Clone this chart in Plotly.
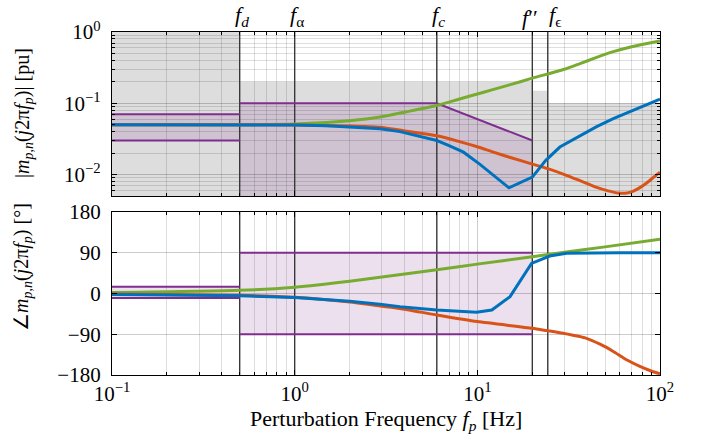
import math
import plotly.graph_objects as go

# ---------------- data ----------------
F_MIN, F_MAX = 0.1, 100.0
MAG_MIN, MAG_MAX = 0.005, 1.0
PH_MIN, PH_MAX = -180, 180

marker_labels = ["<i>f</i><sub><i>d</i></sub>", "<i>f</i><sub>α</sub>",
                 "<i>f</i><sub><i>c</i></sub>", "<i>f</i>′′", "<i>f</i><sub>ϵ</sub>"]
marker_freqs = [0.5, 1.0, 6.0, 20.0, 24.3]

# grey magnitude limit region: segment edges and upper bounds
gray_edges = [0.1, 0.5, 20.0, 24.3, 100.0]
gray_tops = [1.0, 0.2, 0.15, 0.1]

# purple magnitude region
pm_low_f = [0.1, 0.5]
pm_low_bounds = [0.03, 0.07]
pm_high_f = [0.5, 6.0, 20.0]
pm_high_top = [0.1, 0.1, 0.03]

# purple phase region
pp_low_f = [0.1, 0.5]
pp_low_bounds = [-10, 15]
pp_high_f = [0.5, 20.0]
pp_high_bounds = [-90, 90]

# magnitude curves
green_mag_f = [0.1, 0.5, 1, 2, 2.93, 4, 6, 8, 10, 12, 15, 20, 30, 36.5, 45, 55, 70, 85, 100]
green_mag = [0.05, 0.05, 0.051, 0.057, 0.064, 0.075, 0.093, 0.115, 0.135, 0.154, 0.181,
             0.225, 0.30, 0.36, 0.44, 0.525, 0.62, 0.69, 0.75]
orange_mag_f = [0.1, 0.5, 1, 2, 2.93, 4, 6, 8, 10, 12, 15, 20, 25, 30, 36.5, 45, 52, 59,
                66, 71, 78, 84.5, 92, 100]
orange_mag = [0.05, 0.05, 0.0495, 0.048, 0.046, 0.041, 0.035, 0.029, 0.0245, 0.021, 0.0175,
              0.014, 0.0118, 0.0100, 0.0082, 0.0066, 0.0059, 0.0055, 0.0055, 0.0058, 0.0066,
              0.0076, 0.0091, 0.0108]
blue_mag_f = [0.1, 0.5, 1, 1.5, 2, 2.93, 3.77, 5, 6, 7, 8.4, 10.3, 12, 14.9, 20, 23.7, 28.3,
              36.5, 45, 55.5, 70, 85, 100]
blue_mag = [0.05, 0.05, 0.0495, 0.0485, 0.047, 0.044, 0.040, 0.034, 0.030, 0.0255, 0.0206,
            0.014, 0.0102, 0.0065, 0.0092, 0.0158, 0.0243, 0.0354, 0.047, 0.0608, 0.078,
            0.096, 0.114]

# phase curves
green_ph_f = [0.1, 0.5, 1, 2, 2.93, 6, 10, 20, 30, 50, 100]
green_ph = [2, 7, 14, 27, 35.7, 52.7, 64.9, 81.4, 91, 103, 119.6]
orange_ph_f = [0.1, 0.5, 1, 2, 2.93, 3.77, 6, 10, 20, 24, 29.5, 39.6, 47, 55.5, 66, 77.6, 88, 100]
orange_ph = [-1, -4, -8.4, -19, -27.6, -33, -47.4, -62, -76.8, -82, -88, -99, -112, -128,
             -147, -161, -170, -177.6]
blue_ph_f = [0.1, 0.5, 1, 2, 2.93, 3.77, 6, 8, 9.9, 12, 15.1, 19.8, 24.9, 30.8, 40, 60, 100]
blue_ph = [-2, -5, -9, -17, -24, -29, -36.4, -39.5, -41.6, -36.4, -7, 66.6, 82.7, 88.7, 89.5,
           90, 90]

x_tickvals = [0.1, 1, 10, 100]
x_ticktext = ["10<sup>−1</sup>", "10<sup>0</sup>", "10<sup>1</sup>", "10<sup>2</sup>"]
mag_tickvals = [0.01, 0.1, 1]
mag_ticktext = ["10<sup>−2</sup>", "10<sup>−1</sup>", "10<sup>0</sup>"]
ph_tickvals = [-180, -90, 0, 90, 180]
ph_ticktext = ["−180", "−90", "0", "90", "180"]

# ---------------- style ----------------
GREEN = "#77ac30"
ORANGE = "#d95319"
BLUE = "#0072bd"
PURPLE = "#7e2f8e"
PURPLE_FILL = "rgba(126,47,142,0.15)"
GRAY_FILL = "#dddddd"
MARK = "#383838"
FONT = "Liberation Serif"
label_anchor = ["center", "center", "center", "center", "left"]
label_shift = [2, 2, 2, -2, -1]

minor_x = [m * 10 ** k for k in range(-1, 2) for m in range(2, 10)]
minor_y = [m * 10 ** k for k in range(-3, 0) for m in range(2, 10)
           if MAG_MIN <= m * 10 ** k <= MAG_MAX]

fig = go.Figure()

shapes = []
for i in range(len(gray_tops)):
    shapes.append(dict(type="rect", xref="x", yref="y", x0=gray_edges[i], x1=gray_edges[i + 1],
                       y0=MAG_MIN, y1=gray_tops[i], fillcolor=GRAY_FILL,
                       line=dict(width=0), layer="below"))
shapes.append(dict(type="rect", xref="x", yref="y", x0=pm_low_f[0], x1=pm_low_f[1],
                   y0=pm_low_bounds[0], y1=pm_low_bounds[1], fillcolor=PURPLE_FILL,
                   line=dict(width=0), layer="below"))
path = "M{},{} ".format(pm_high_f[0], MAG_MIN)
for f, v in zip(pm_high_f, pm_high_top):
    path += "L{},{} ".format(f, v)
path += "L{},{} Z".format(pm_high_f[-1], MAG_MIN)
shapes.append(dict(type="path", xref="x", yref="y", path=path, fillcolor=PURPLE_FILL,
                   line=dict(width=0), layer="below"))
shapes.append(dict(type="rect", xref="x2", yref="y2", x0=pp_low_f[0], x1=pp_low_f[1],
                   y0=pp_low_bounds[0], y1=pp_low_bounds[1], fillcolor=PURPLE_FILL,
                   line=dict(width=0), layer="below"))
shapes.append(dict(type="rect", xref="x2", yref="y2", x0=pp_high_f[0], x1=pp_high_f[1],
                   y0=pp_high_bounds[0], y1=pp_high_bounds[1], fillcolor=PURPLE_FILL,
                   line=dict(width=0), layer="below"))

# marker lines
for f in marker_freqs:
    fig.add_trace(go.Scatter(x=[f, f], y=[MAG_MIN, MAG_MAX], mode="lines",
                             line=dict(color=MARK, width=1.4), xaxis="x", yaxis="y",
                             hoverinfo="skip"))
    fig.add_trace(go.Scatter(x=[f, f], y=[PH_MIN, PH_MAX], mode="lines",
                             line=dict(color=MARK, width=1.4), xaxis="x2", yaxis="y2",
                             hoverinfo="skip"))

# purple boundary lines
for b in pm_low_bounds:
    fig.add_trace(go.Scatter(x=pm_low_f, y=[b, b], mode="lines",
                             line=dict(color=PURPLE, width=2), xaxis="x", yaxis="y"))
fig.add_trace(go.Scatter(x=pm_high_f, y=pm_high_top, mode="lines",
                         line=dict(color=PURPLE, width=2), xaxis="x", yaxis="y"))
for b in pp_low_bounds:
    fig.add_trace(go.Scatter(x=pp_low_f, y=[b, b], mode="lines",
                             line=dict(color=PURPLE, width=2), xaxis="x2", yaxis="y2"))
for b in pp_high_bounds:
    fig.add_trace(go.Scatter(x=pp_high_f, y=[b, b], mode="lines",
                             line=dict(color=PURPLE, width=2), xaxis="x2", yaxis="y2"))

# curves
for fx, fy, col, shp in [(green_mag_f, green_mag, GREEN, "spline"),
                         (orange_mag_f, orange_mag, ORANGE, "spline"),
                         (blue_mag_f, blue_mag, BLUE, "linear")]:
    fig.add_trace(go.Scatter(x=fx, y=fy, mode="lines",
                             line=dict(color=col, width=3, shape=shp, smoothing=0.6),
                             xaxis="x", yaxis="y"))
for fx, fy, col, shp in [(green_ph_f, green_ph, GREEN, "spline"),
                         (orange_ph_f, orange_ph, ORANGE, "spline"),
                         (blue_ph_f, blue_ph, BLUE, "linear")]:
    fig.add_trace(go.Scatter(x=fx, y=fy, mode="lines",
                             line=dict(color=col, width=3, shape=shp, smoothing=0.6),
                             xaxis="x2", yaxis="y2"))

annotations = []
for lab, f, anc, sh in zip(marker_labels, marker_freqs, label_anchor, label_shift):
    annotations.append(dict(text=lab, x=math.log10(f), xref="x", y=1, yref="paper",
                            yanchor="bottom", xanchor=anc, xshift=sh, showarrow=False,
                            font=dict(family=FONT, size=22, color="black")))
annotations.append(dict(text="|<i>m</i><sub><i>p,n</i></sub>(<i>j</i>2π<i>f</i><sub><i>p</i></sub>)| [pu]",
                        x=0, xref="paper", xshift=-89, y=0.7638, yref="paper",
                        textangle=-90, showarrow=False, xanchor="center", yanchor="middle",
                        font=dict(family=FONT, size=20, color="black")))
annotations.append(dict(text="∠<i>m</i><sub><i>p,n</i></sub>(<i>j</i>2π<i>f</i><sub><i>p</i></sub>) [°]",
                        x=0, xref="paper", xshift=-89, y=0.3149, yref="paper",
                        textangle=-90, showarrow=False, xanchor="center", yanchor="middle",
                        font=dict(family=FONT, size=20, color="black")))
annotations.append(dict(text="Perturbation Frequency <i>f</i><sub><i>p</i></sub> [Hz]",
                        x=0.5, xref="paper", y=-0.131, yref="paper", showarrow=False,
                        xanchor="center", yanchor="middle",
                        font=dict(family=FONT, size=22, color="black")))

common_x = dict(type="log", range=[math.log10(F_MIN), math.log10(F_MAX)],
                tickvals=x_tickvals, ticktext=x_ticktext, ticks="inside", ticklen=5,
                tickcolor="black", showline=True, linecolor="black", linewidth=1.2,
                mirror="allticks", showgrid=True, gridcolor="rgba(0,0,0,0.2)", gridwidth=1,
                zeroline=False,
                minor=dict(tickvals=minor_x, showgrid=True, gridcolor="rgba(0,0,0,0.13)",
                           ticks="inside", ticklen=3, tickcolor="black"),
                tickfont=dict(family=FONT, size=21, color="black"))

fig.update_layout(
    width=702, height=436, margin=dict(l=112, r=42, t=32, b=61),
    paper_bgcolor="white", plot_bgcolor="white", showlegend=False,
    font=dict(family=FONT, color="black"),
    shapes=shapes, annotations=annotations,
    xaxis=dict(common_x, domain=[0, 1], anchor="y", showticklabels=False),
    xaxis2=dict(common_x, domain=[0, 1], anchor="y2", showticklabels=True),
    yaxis=dict(type="log", domain=[0.5219, 1], anchor="x",
               range=[math.log10(MAG_MIN), math.log10(MAG_MAX)],
               tickvals=mag_tickvals, ticktext=mag_ticktext, ticks="inside", ticklen=5,
               tickcolor="black", showline=True, linecolor="black", linewidth=1.2,
               mirror="allticks", showgrid=True, gridcolor="rgba(0,0,0,0.2)", zeroline=False,
               minor=dict(tickvals=minor_y, showgrid=True, gridcolor="rgba(0,0,0,0.13)",
                          ticks="inside", ticklen=3, tickcolor="black"),
               ticklabelstandoff=6,
               tickfont=dict(family=FONT, size=21, color="black")),
    yaxis2=dict(domain=[0, 0.4752], anchor="x2", range=[PH_MIN, PH_MAX],
                tickvals=ph_tickvals, ticktext=ph_ticktext, ticks="inside", ticklen=5,
                tickcolor="black", showline=True, linecolor="black", linewidth=1.2,
                mirror="allticks", showgrid=True, gridcolor="rgba(0,0,0,0.2)", zeroline=False,
                ticklabelstandoff=6,
                tickfont=dict(family=FONT, size=21, color="black")),
)

fig.write_html("out.html")
